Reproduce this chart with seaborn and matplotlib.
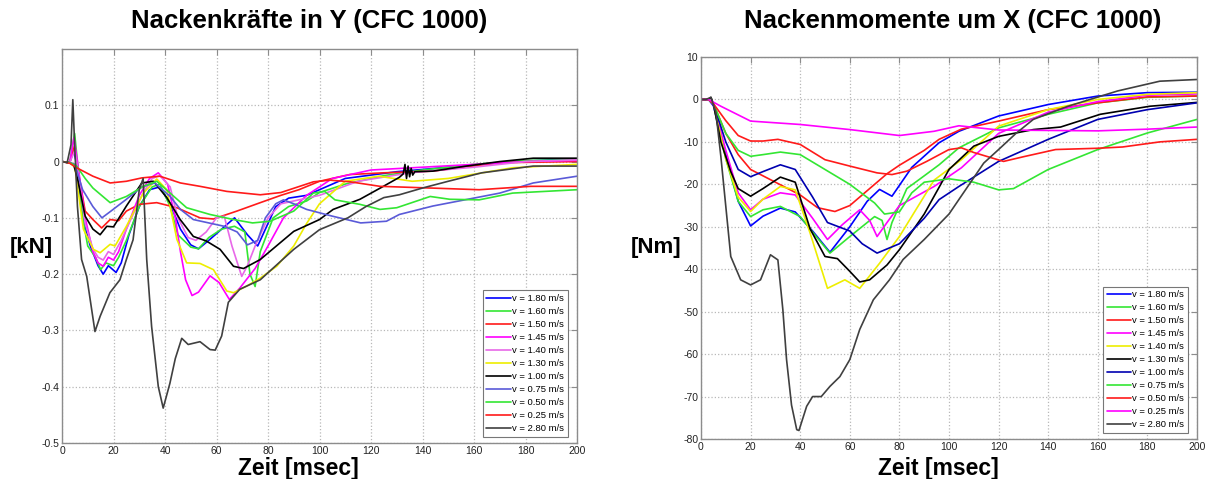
import numpy as np
import pandas as pd
import matplotlib
matplotlib.use("Agg")
import matplotlib.pyplot as plt
import seaborn as sns

# ---------------- Nackenkraefte in Y [kN] ----------------
lt_180 = [0, 3, 4.5, 6, 8, 11, 14, 16, 18, 21, 23, 26, 30, 34, 38, 42, 46, 50, 53, 57, 62, 67, 72, 76, 79, 83, 88, 95, 110, 130, 150, 175, 200]
lv_180 = [0, -0.002, 0.02, -0.01, -0.1, -0.15, -0.185, -0.2, -0.185, -0.197, -0.18, -0.13, -0.08, -0.05, -0.045, -0.075, -0.12, -0.148, -0.155, -0.14, -0.12, -0.1, -0.13, -0.15, -0.12, -0.08, -0.065, -0.06, -0.03, -0.018, -0.01, 0, 0.005]

lt_160 = [0, 3, 4.9, 6, 8, 10, 13, 15, 17, 20, 22, 25, 30, 35, 38, 42, 45, 50, 53, 57, 62, 67, 71, 73, 75, 77, 82, 88, 95, 100, 110, 125, 140, 160, 180, 200]
lv_160 = [0, -0.002, 0.05, 0.0, -0.1, -0.15, -0.17, -0.192, -0.18, -0.185, -0.17, -0.14, -0.08, -0.045, -0.04, -0.08, -0.13, -0.152, -0.155, -0.135, -0.12, -0.115, -0.125, -0.2, -0.222, -0.16, -0.1, -0.08, -0.07, -0.055, -0.04, -0.025, -0.015, -0.005, 0.002, 0.003]

lt_150 = [0, 3, 4.8, 6, 9, 12, 15.4, 18.7, 22, 25, 30, 36.8, 44.6, 53.6, 58.8, 67.9, 77, 85, 92, 100, 111.8, 124.8, 144, 170, 200]
lv_150 = [0, -0.002, 0.027, -0.01, -0.088, -0.103, -0.118, -0.103, -0.105, -0.088, -0.076, -0.073, -0.082, -0.1, -0.102, -0.088, -0.073, -0.06, -0.05, -0.035, -0.023, -0.02, -0.017, -0.002, 0]

lt_145 = [0, 3, 4.6, 6, 9, 12, 14, 16, 18, 20, 22, 25, 30, 34, 37.4, 41, 44, 46, 48, 50.5, 53, 57.5, 61, 65, 69, 75, 80, 86, 95, 105, 120, 140, 160, 180, 200]
lv_145 = [0, -0.002, 0.042, 0.0, -0.1, -0.16, -0.18, -0.186, -0.17, -0.175, -0.16, -0.12, -0.06, -0.03, -0.02, -0.04, -0.1, -0.16, -0.21, -0.238, -0.232, -0.203, -0.215, -0.245, -0.225, -0.19, -0.15, -0.1, -0.06, -0.03, -0.015, -0.01, -0.005, 0, 0.002]

lt_140 = [0, 3, 5, 6, 9, 12, 14, 16, 18, 20, 23, 27, 31, 35, 38, 42, 45, 49, 52, 56, 60, 63, 66, 69.8, 72, 75, 80, 85, 90, 100, 115, 135, 160, 180, 200]
lv_140 = [0, -0.002, 0.02, -0.01, -0.11, -0.155, -0.17, -0.175, -0.16, -0.165, -0.14, -0.1, -0.06, -0.03, -0.025, -0.045, -0.1, -0.135, -0.14, -0.125, -0.1, -0.097, -0.15, -0.204, -0.185, -0.15, -0.1, -0.075, -0.07, -0.06, -0.035, -0.02, -0.01, 0, 0.003]

lt_130 = [0, 3, 5, 8.3, 12.2, 14.8, 18.7, 20.6, 25, 31.6, 36.8, 40.7, 44.6, 48.4, 53.6, 58.8, 64, 66.6, 71.8, 77, 83.4, 90, 95, 100, 110, 123, 136, 150, 175, 200]
lv_130 = [0, -0.002, -0.01, -0.12, -0.156, -0.162, -0.147, -0.15, -0.115, -0.056, -0.031, -0.05, -0.138, -0.18, -0.181, -0.192, -0.23, -0.233, -0.221, -0.207, -0.186, -0.15, -0.11, -0.075, -0.035, -0.026, -0.035, -0.03, -0.011, -0.005]

lt_100 = [0, 3, 4.5, 6, 9, 12, 14.8, 17.4, 20, 25, 31, 35.5, 40.7, 45.9, 51, 56, 61.4, 66.6, 70.5, 77, 90, 100, 105.3, 115.7, 124.8, 131, 132.5, 133.2, 133.8, 134.4, 135, 135.6, 136.2, 137, 144, 157, 170, 183, 200]
lv_100 = [0, -0.002, -0.005, -0.03, -0.097, -0.12, -0.13, -0.115, -0.116, -0.079, -0.038, -0.035, -0.064, -0.103, -0.133, -0.141, -0.156, -0.186, -0.19, -0.174, -0.124, -0.103, -0.085, -0.067, -0.044, -0.028, -0.022, -0.005, -0.03, -0.008, -0.027, -0.012, -0.024, -0.018, -0.017, -0.008, 0, 0.006, 0.006]

lt_075 = [0, 3, 5, 8, 12, 15.5, 19, 25, 31, 36, 42, 46, 51, 57, 63, 68, 72, 76, 79, 83, 86, 90, 95, 105, 116, 126, 131, 144, 170, 183, 200]
lv_075 = [0, -0.002, -0.005, -0.05, -0.08, -0.1, -0.088, -0.067, -0.045, -0.038, -0.062, -0.085, -0.103, -0.109, -0.115, -0.125, -0.148, -0.14, -0.1, -0.075, -0.068, -0.075, -0.085, -0.097, -0.109, -0.106, -0.094, -0.079, -0.056, -0.038, -0.026]

lt_050 = [0, 3, 5.7, 9, 12, 18.7, 25, 31.6, 36.8, 42, 48.4, 57.5, 66.6, 74, 80.8, 90, 97.6, 102, 106, 115.7, 123.5, 130, 143, 150.6, 162, 175, 200]
lv_050 = [0, -0.002, -0.008, -0.03, -0.047, -0.073, -0.062, -0.044, -0.035, -0.056, -0.082, -0.094, -0.103, -0.109, -0.106, -0.088, -0.056, -0.053, -0.068, -0.076, -0.085, -0.082, -0.062, -0.067, -0.068, -0.056, -0.05]

lt_025 = [0, 3, 5.7, 12, 18.7, 25, 31, 38, 46, 53.6, 64, 77, 85, 97.6, 104, 112, 123.5, 143, 162, 182, 200]
lv_025 = [0, -0.003, -0.011, -0.026, -0.038, -0.035, -0.029, -0.026, -0.038, -0.044, -0.053, -0.059, -0.055, -0.036, -0.033, -0.036, -0.044, -0.047, -0.05, -0.044, -0.044]

lt_280 = [0, 2, 3.5, 4.2, 5, 6, 7.6, 9.6, 12.8, 14.8, 18.6, 22.5, 25, 27.6, 30, 31.5, 32.9, 34.8, 37.4, 39.3, 41.9, 44, 46.5, 49, 53.6, 57.5, 59.5, 62, 64.6, 69, 77, 90, 100, 111, 118, 125, 131, 140, 150, 163, 183, 200]
lv_280 = [0, -0.002, 0.03, 0.11, 0.02, -0.08, -0.174, -0.204, -0.302, -0.275, -0.233, -0.21, -0.174, -0.139, -0.05, -0.03, -0.174, -0.293, -0.4, -0.438, -0.394, -0.35, -0.314, -0.325, -0.32, -0.334, -0.335, -0.31, -0.25, -0.227, -0.21, -0.156, -0.121, -0.1, -0.08, -0.064, -0.059, -0.047, -0.035, -0.02, -0.008, -0.008]

# ---------------- Nackenmomente um X [Nm] ----------------
rt_180 = [0, 3, 5, 10, 15, 20, 25, 32, 38, 45, 52, 60, 67, 72, 77, 85, 96, 104, 120, 140, 160, 180, 200]
rv_180 = [0, 0, -1.5, -13, -24, -29.8, -27.5, -25.6, -26.5, -31, -36, -30, -24, -21.2, -22.8, -16, -10.2, -7.5, -3.9, -1.2, 0.8, 1.6, 1.7]

rt_160 = [0, 3, 5, 10, 15, 20, 25, 32, 40, 46, 52, 60, 70, 73, 75, 77, 83, 90, 96, 104, 120, 140, 160, 180, 200]
rv_160 = [0, 0, -1, -14, -24, -27.6, -26, -25.2, -27.6, -32, -36.2, -32.3, -27.6, -28.5, -33, -29, -21, -18, -15.4, -11.4, -6.7, -3.5, -0.8, 0.5, 0.8]

rt_150 = [0, 3, 5, 10, 15, 20, 25, 33, 40, 47, 54, 60, 70, 75, 80, 90, 96, 105, 120, 140, 160, 180, 200]
rv_150 = [0, 0, -1, -8, -13, -16.5, -18, -20.4, -22.5, -25.5, -26.4, -25, -20, -17.5, -15.5, -12, -9.4, -7, -5.1, -2.4, -0.8, 0.6, 0.8]

rt_145 = [0, 3, 5, 10, 15, 20, 25, 32, 38, 45, 51, 57, 64, 68, 71, 75, 80, 94, 105, 120, 140, 160, 180, 200]
rv_145 = [0, 0, -1, -12, -22, -26, -23.5, -22, -22.5, -28, -33, -29.5, -26, -28.5, -32.3, -29, -25, -20.5, -16.1, -8, -3, -0.5, 1, 1.3]

rt_140 = [0, 3, 5, 10, 15, 20, 25, 32, 38, 44, 51, 58, 64, 72, 80, 94, 105, 120, 140, 160, 180, 200]
rv_140 = [0, 0, -1, -14, -23, -26.4, -23.5, -20.5, -21.3, -31.5, -44.5, -42.5, -44.5, -38.6, -32.3, -19, -14.2, -6.3, -2.4, 0, 1.2, 1.6]

rt_130 = [0, 3, 4, 5, 8, 12, 15, 20, 25, 32, 38, 44, 50, 55, 60, 64, 68, 75, 80, 90, 100, 110, 120, 134, 145, 161, 181, 200]
rv_130 = [0, 0, 0.5, -1, -10, -17, -21, -22.8, -21, -18.3, -19.5, -30.5, -37, -37.5, -40.5, -43, -42.5, -39, -35.4, -27, -16.5, -11, -8.7, -7.1, -6.5, -3.5, -1.6, -0.7]

rt_100 = [0, 3, 5, 10, 15, 20, 25, 32, 38, 45, 51, 60, 65, 71, 80, 90, 96, 104, 120, 140, 160, 180, 200]
rv_100 = [0, 0, -1, -10, -16.5, -18.2, -17, -15.4, -16.5, -23, -29, -31, -34, -36.2, -34, -28, -23.6, -20.5, -14.6, -9.4, -4.7, -2.4, -0.8]

rt_075 = [0, 3, 5, 10, 15, 20, 25, 32, 40, 50, 60, 70, 74, 80, 85, 90, 100, 110, 120, 126, 140, 160, 180, 200]
rv_075 = [0, 0, -1, -8, -12, -13.4, -13, -12.4, -13, -16.5, -20, -24.4, -27, -26.5, -22, -19.5, -18.7, -19.5, -21.3, -21, -16.5, -11.8, -7.9, -4.7]

rt_050 = [0, 3, 5, 10, 15, 20, 25, 31, 40, 50, 60, 71, 77, 83, 91, 100, 105, 110, 122, 130, 143, 160, 170, 185, 200]
rv_050 = [0, 0, -1, -5, -8.5, -9.8, -9.8, -9.4, -10.6, -14.2, -15.7, -17.3, -17.7, -16.9, -14.6, -11.8, -11.4, -12.5, -14.6, -13.5, -11.8, -11.5, -11.2, -10, -9.4]

rt_025 = [0, 3, 8, 20, 40, 60, 80, 94, 104, 120, 140, 160, 180, 200]
rv_025 = [0, 0, -1.6, -5.1, -5.9, -7.1, -8.5, -7.5, -6.2, -7.2, -7.3, -7.4, -7, -6.5]

rt_280 = [0, 2, 4, 6, 8, 12, 16, 20, 24, 28, 31, 33, 34.5, 36.5, 38.6, 39.5, 42.6, 45, 48.5, 52, 56, 60, 64, 69.5, 76, 81.5, 90, 100, 107, 114, 120, 127, 134, 148, 168, 185, 200]
rv_280 = [0, 0, 0.5, -3, -13.4, -37, -42.5, -43.7, -42.5, -36.6, -37.8, -49.5, -61.3, -72, -77.8, -78, -72.3, -70, -70, -67.6, -65.3, -61.3, -54.2, -47.2, -42.5, -37.7, -33, -27, -21, -15, -11.8, -8, -4.7, -1.6, 2, 4.3, 4.7]

labels = ["v = 1.80 m/s", "v = 1.60 m/s", "v = 1.50 m/s", "v = 1.45 m/s", "v = 1.40 m/s",
          "v = 1.30 m/s", "v = 1.00 m/s", "v = 0.75 m/s", "v = 0.50 m/s", "v = 0.25 m/s",
          "v = 2.80 m/s"]

left_series = [(lt_180, lv_180), (lt_160, lv_160), (lt_150, lv_150), (lt_145, lv_145),
               (lt_140, lv_140), (lt_130, lv_130), (lt_100, lv_100), (lt_075, lv_075),
               (lt_050, lv_050), (lt_025, lv_025), (lt_280, lv_280)]
right_series = [(rt_180, rv_180), (rt_160, rv_160), (rt_150, rv_150), (rt_145, rv_145),
                (rt_140, rv_140), (rt_130, rv_130), (rt_100, rv_100), (rt_075, rv_075),
                (rt_050, rv_050), (rt_025, rv_025), (rt_280, rv_280)]

left_colors = ["#0000ff", "#33e633", "#ff1a1a", "#ff00ff", "#e868e8", "#eeee00",
               "#000000", "#5a5ad8", "#33e633", "#ff1a1a", "#404040"]
right_colors = ["#0000ff", "#33e633", "#ff1a1a", "#ff00ff", "#eeee00", "#000000",
                "#0000b0", "#33e633", "#ff1a1a", "#ff00ff", "#404040"]

sns.set_style("white")
plt.rcParams['font.family'] = ['Liberation Sans', 'DejaVu Sans']
plt.rcParams['axes.unicode_minus'] = False
plt.rcParams['text.color'] = 'black'

fig = plt.figure(figsize=(12.09, 4.79), dpi=100)
ax1 = fig.add_axes([62 / 1209, 36 / 479, 515 / 1209, 394 / 479])
ax2 = fig.add_axes([701 / 1209, 40 / 479, 496 / 1209, 382 / 479])


def draw(ax, series, colors, ylim, yticks):
    for (t, v), c, lab in zip(series, colors, labels):
        sns.lineplot(x=t, y=v, color=c, label=lab, ax=ax, sort=False,
                     estimator=None, linewidth=1.2)
    ax.set_xlim(0, 200)
    ax.set_ylim(*ylim)
    ax.set_xticks(np.arange(0, 201, 20))
    ax.set_yticks(yticks)
    ax.grid(True, linestyle=":", color="#b8b8b8", linewidth=0.9)
    for s in ax.spines.values():
        s.set_color("#8c8c8c")
        s.set_linewidth(1.0)
    ax.tick_params(direction="in", length=4, labelsize=7.5, colors="#8c8c8c",
                   labelcolor="#222222", top=True, right=True, pad=2)
    ax.set_xlabel("")
    ax.set_ylabel("")
    leg = ax.legend(loc="lower right", bbox_to_anchor=(0.982, 0.016), fontsize=6.8,
                    frameon=True, fancybox=False, framealpha=1, edgecolor="#777777",
                    handlelength=2.6, handletextpad=0.1, labelspacing=0.42,
                    borderpad=0.4, borderaxespad=0)
    leg.get_frame().set_linewidth(0.8)


draw(ax1, left_series, left_colors, (-0.5, 0.2), np.round(np.arange(-0.5, 0.11, 0.1), 1))
ax1.set_yticklabels(["-0.5", "-0.4", "-0.3", "-0.2", "-0.1", "0", "0.1"])
draw(ax2, right_series, right_colors, (-80, 10), np.arange(-80, 11, 10))

fig.text(309 / 1209, 1 - 21 / 479, "Nackenkräfte in Y (CFC 1000)", ha="center", va="center",
         fontsize=18.5, fontweight="bold")
fig.text(953 / 1209, 1 - 21 / 479, "Nackenmomente um X (CFC 1000)", ha="center", va="center",
         fontsize=18.5, fontweight="bold")
fig.text(298 / 1209, 1 - 469 / 479, "Zeit [msec]", ha="center", va="center",
         fontsize=16.5, fontweight="bold")
fig.text(938 / 1209, 1 - 469 / 479, "Zeit [msec]", ha="center", va="center",
         fontsize=16.5, fontweight="bold")
fig.text(31 / 1209, 1 - 248 / 479, "[kN]", ha="center", va="center",
         fontsize=16, fontweight="bold")
fig.text(656 / 1209, 1 - 247 / 479, "[Nm]", ha="center", va="center",
         fontsize=16, fontweight="bold")

fig.savefig("out.png", dpi=100)
